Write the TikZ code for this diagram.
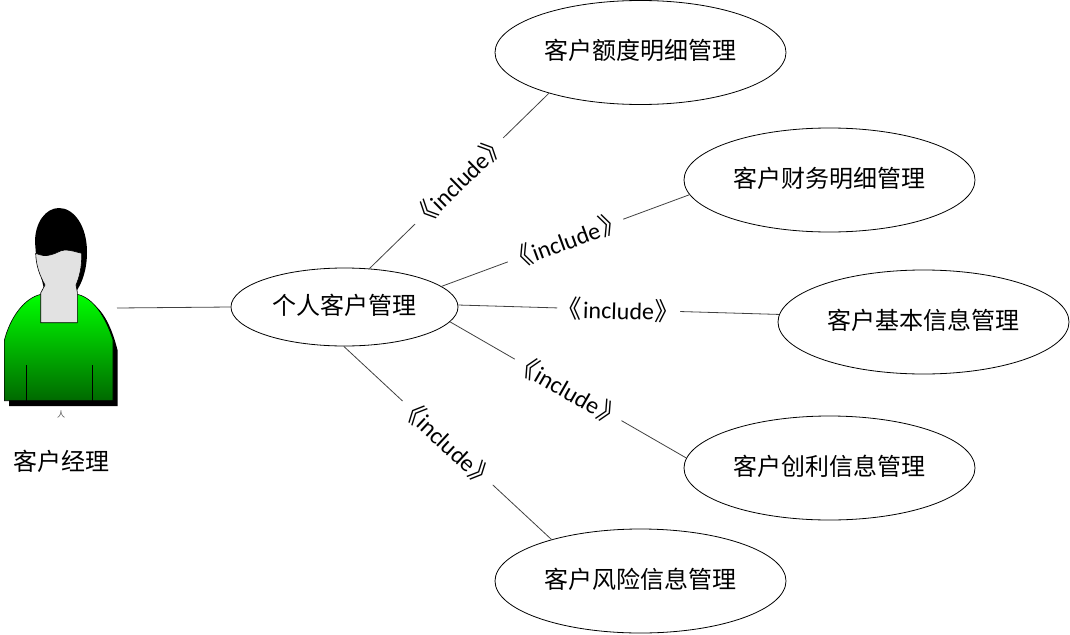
\documentclass[tikz,border=0pt]{standalone}
\usepackage{fontspec}
\setmainfont{Carlito}
\newfontfamily\cjk{Noto Sans CJK SC}
\usepackage{xcolor}
\usetikzlibrary{shapes.geometric,positioning}
\definecolor{facegray}{RGB}{226,226,226}
\definecolor{shirttop}{RGB}{0,255,0}
\definecolor{shirtbot}{RGB}{0,105,0}
\newcommand{\stereo}[1]{{\cjk\fontsize{25}{26}\selectfont 《}\kern1pt #1\kern1pt{\cjk\fontsize{25}{26}\selectfont 》}}
\tikzset{
    usecase/.style={
        ellipse, draw=black, line width=0.8pt, inner sep=0pt,
        minimum width=291pt, minimum height=104pt,
        text height=20.5pt, text depth=6.5pt,
        align=center, font=\cjk\fontsize{24}{26}\selectfont
    },
    relation/.style={draw=black!75, line width=0.8pt},
    stereotype/.style={
        sloped, fill=white, inner xsep=0pt, inner ysep=0pt,
        font=\fontsize{24}{26}\selectfont
    },
    actorname/.style={font=\cjk\fontsize{24}{26}\selectfont}
}
\begin{document}
\begin{tikzpicture}[x=1pt, y=-1pt]
\useasboundingbox (0,0) rectangle (1070,634);

%% Use cases -- the central one, then the five around it
\node[usecase, minimum width=227pt, minimum height=78pt] (personal) at (344.5, 307) {个人客户管理};
\node[usecase] (credit)  at (640.5,  52.5) {客户额度明细管理};
\node[usecase] (finance) at (829.5, 180)   {客户财务明细管理};
\node[usecase] (basic)   at (923.5, 322)   {客户基本信息管理};
\node[usecase] (profit)  at (829.5, 468)   {客户创利信息管理};
\node[usecase] (risk)    at (640.5, 581)   {客户风险信息管理};

%% Actor figure -- shadow first, then hair, shirt, face
\fill[black] (9,345.5) .. controls (12,320) and (28,302) .. (46,299) -- (82,299)
    .. controls (98,302) and (110,320) .. (117.5,350) -- (117.5,406) -- (9,406) -- cycle;
\fill[black] (35,242) .. controls (35,222) and (46,208) .. (59,208)
    .. controls (74,208) and (87,226) .. (87,252)
    .. controls (87,270) and (82,284) .. (75,293) -- (45,293) -- (36,255) -- cycle;
\shade[top color=shirttop, bottom color=shirtbot, draw=black, line width=0.6pt]
    (4.3,340.5) .. controls (10,318) and (24,298) .. (41,294.3) -- (77.3,294.3)
    .. controls (94,298) and (106,318) .. (113,340) -- (113,400.7) -- (4.3,400.7) -- cycle;
\draw[black, line width=0.6pt] (26.3,365) -- (26.3,400.7) (92.3,365) -- (92.3,400.7);
\fill[facegray, draw=black, line width=0.6pt] (35.7,253.3)
    .. controls (42,256) and (46,256) .. (50,255)
    .. controls (56,254) and (60,250) .. (65,250)
    .. controls (71,250) and (76,252) .. (81.7,253.3)
    .. controls (82,268) and (79,278) .. (76,285) -- (77.3,292) -- (77.3,322.7) -- (40.7,322.7) -- (40.7,293) -- (45,285)
    .. controls (40,276) and (36,266) .. (35.7,253.3) -- cycle;

\coordinate (actorport) at (117, 308);
\node[font=\cjk\fontsize{8}{9}\selectfont, text=black!70, inner sep=0pt] (actortag) at (61, 414) {人};
\node[actorname] (manager) at (61, 461) {客户经理};

%% Connectors
\draw[relation] (actorport) -- (personal.west);
\draw[relation] (personal.57)  -- node[stereotype]{\stereo{include}} (credit.204);
\draw[relation] (personal.12)  -- node[stereotype]{\stereo{include}} (finance.186.7);
\draw[relation] (personal.1.5) -- node[stereotype]{\stereo{include}} (basic.177.6);
\draw[relation] (personal.-8.9) -- node[stereotype]{\stereo{include}} (profit.176);
\draw[relation] (personal.-91.5) -- node[stereotype]{\stereo{include}} (risk.155);

\end{tikzpicture}
\end{document}
